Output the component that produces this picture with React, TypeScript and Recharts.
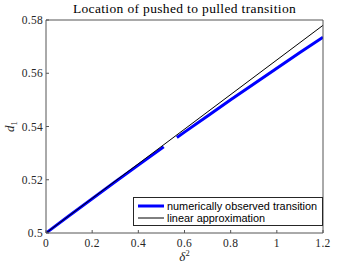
import React from 'react';
import { LineChart, Line, XAxis, YAxis, Legend } from 'recharts';

const xTicks = [0, 0.2, 0.4, 0.6, 0.8, 1, 1.2];
const yTicks = [0.5, 0.52, 0.54, 0.56, 0.58];

const seriesNames = ['numerically observed transition', 'linear approximation'];

const observedDelta2 = [0, 0.1, 0.2, 0.3, 0.4, 0.51, 0.54, 0.567, 0.6, 0.7, 0.8, 0.9, 1.0, 1.1, 1.2];
const observedD1: (number | null)[] = [0.5, 0.50647, 0.51288, 0.51922, 0.5255, 0.53234, null, 0.53588, 0.53788, 0.54398, 0.55002, 0.55599, 0.5619, 0.56775, 0.57354];

const linearDelta2 = [0, 1.2];
const linearD1 = [0.5, 0.578];

const observedData = observedDelta2.map((x, i) => ({ x, y: observedD1[i] }));
const linearData = linearDelta2.map((x, i) => ({ x, y: linearD1[i] }));

const SERIF = '"Liberation Serif", "Times New Roman", serif';
const SANS = '"Liberation Sans", Arial, sans-serif';
const AXIS = '#555555';
const TEXT = '#262626';

const tickStyle = { fill: TEXT, fontSize: 11.5, fontFamily: SERIF, letterSpacing: 0.3 };

const LegendBox = (props: any) => {
  const payload = [...(props.payload || [])].sort(
    (a: any, b: any) => seriesNames.indexOf(a.value) - seriesNames.indexOf(b.value)
  );
  return (
    <div
      style={{
        boxSizing: 'border-box',
        width: 190,
        height: 29,
        border: '1px solid #262626',
        background: '#fff',
        padding: '2px 0 0 4px',
        fontFamily: SANS,
        fontSize: 10.9,
        color: '#000',
        whiteSpace: 'nowrap',
      }}
    >
      {payload.map((entry: any, i: number) => (
        <div key={i} style={{ display: 'flex', alignItems: 'center', height: 12, lineHeight: '12px' }}>
          <svg width={26} height={6} style={{ marginRight: 3, flexShrink: 0 }}>
            <line
              x1={0}
              x2={26}
              y1={3}
              y2={3}
              stroke={entry.color}
              strokeWidth={entry.value === seriesNames[0] ? 3 : 1}
            />
          </svg>
          <span>{entry.value}</span>
        </div>
      ))}
    </div>
  );
};

const XLabel = (props: any) => {
  const vb = props.viewBox || {};
  const cx = vb.x + vb.width / 2;
  return (
    <text x={cx} y={vb.y + 28} textAnchor="middle" fill={TEXT} fontFamily={SERIF} fontSize={13}>
      <tspan fontStyle="italic">δ</tspan>
      <tspan dy={-5} fontSize={8.5}>2</tspan>
    </text>
  );
};

const YLabel = (props: any) => {
  const vb = props.viewBox || {};
  const cy = vb.y + vb.height / 2;
  const x = 14;
  return (
    <text x={x} y={cy} transform={`rotate(-90, ${x}, ${cy})`} textAnchor="middle" fill={TEXT} fontFamily={SERIF} fontSize={13}>
      <tspan fontStyle="italic">d</tspan>
      <tspan dy={3} fontSize={8.5}>1</tspan>
    </text>
  );
};

export default function App() {
  return (
    <div style={{ position: 'absolute', left: 0, top: 0, width: 357, height: 268, background: '#fff' }}>
      <div
        style={{
          position: 'absolute',
          left: 46,
          width: 277,
          top: 0,
          textAlign: 'center',
          fontFamily: SERIF,
          fontSize: 13.5,
          letterSpacing: 0.35,
          color: '#000',
          lineHeight: '17px',
          whiteSpace: 'nowrap',
        }}
      >
        Location of pushed to pulled transition
      </div>
      <LineChart width={357} height={268} margin={{ top: 19, right: 33, bottom: 0, left: 0 }}>
        <XAxis
          xAxisId={0}
          dataKey="x"
          type="number"
          domain={[0, 1.2]}
          ticks={xTicks}
          allowDataOverflow
          height={35}
          tickSize={-3}
          tickMargin={9}
          tick={tickStyle}
          stroke={AXIS}
          label={<XLabel />}
          interval={0}
        />
        <XAxis
          xAxisId="top"
          orientation="top"
          type="number"
          domain={[0, 1.2]}
          ticks={xTicks}
          height={1}
          tickSize={-3}
          tickFormatter={() => ''}
          stroke={AXIS}
          interval={0}
        />
        <YAxis
          yAxisId={0}
          type="number"
          domain={[0.5, 0.58]}
          ticks={yTicks}
          allowDataOverflow
          width={46}
          tickSize={-3}
          tickMargin={6}
          tick={tickStyle}
          stroke={AXIS}
          label={<YLabel />}
          interval={0}
        />
        <YAxis
          yAxisId="right"
          orientation="right"
          type="number"
          domain={[0.5, 0.58]}
          ticks={yTicks}
          width={1}
          tickSize={-3}
          tickFormatter={() => ''}
          stroke={AXIS}
          interval={0}
        />
        <Line
          data={observedData}
          dataKey="y"
          name={seriesNames[0]}
          stroke="#0000ff"
          strokeWidth={3}
          dot={false}
          activeDot={false}
          connectNulls={false}
          isAnimationActive={false}
          type="linear"
        />
        <Line
          data={linearData}
          dataKey="y"
          name={seriesNames[1]}
          stroke="#000000"
          strokeWidth={1}
          dot={false}
          activeDot={false}
          isAnimationActive={false}
          type="linear"
        />
        <Legend
          layout="vertical"
          align="center"
          verticalAlign="middle"
          content={<LegendBox />}
          wrapperStyle={{ left: 133, top: 197, width: 190, height: 29 }}
        />
      </LineChart>
    </div>
  );
}
